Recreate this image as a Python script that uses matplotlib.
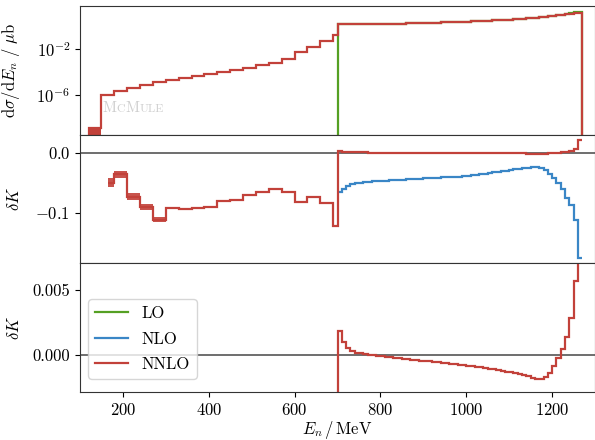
import numpy as np
import matplotlib
matplotlib.use("Agg")
import matplotlib.pyplot as plt
from matplotlib.lines import Line2D
from matplotlib.offsetbox import TextArea, HPacker, AnchoredOffsetbox

plt.rcParams['font.family'] = 'serif'
plt.rcParams['font.serif'] = ['cmr10']
plt.rcParams['mathtext.fontset'] = 'cm'
plt.rcParams['axes.formatter.use_mathtext'] = True
plt.rcParams['axes.unicode_minus'] = True
plt.rcParams['font.size'] = 12

# bin edges: coarse 30 MeV bins below 700, fine 10 MeV bins above
edges_low = [120, 150, 180, 210, 240, 270, 300, 330, 360, 390, 420, 450,
             480, 510, 540, 570, 600, 630, 660, 690, 700]
edges_high = list(range(700, 1280, 10))

# log10 of dsigma/dE_n (NNLO) in the low bins
dsig_low_log = [-8.87, -6.0, -5.63, -5.42, -5.13, -4.9, -4.7, -4.55, -4.35,
                -4.17, -3.97, -3.83, -3.63, -3.42, -3.19, -2.87, -2.25, -1.8,
                -1.28, -0.78]

# log10 of dsigma/dE_n in the high bins (NNLO, LO nearly the same)
dsig_high_log = [0.15, 0.15, 0.155, 0.16, 0.16, 0.165, 0.17, 0.175, 0.18, 0.185,
                 0.19, 0.195, 0.20, 0.21, 0.215, 0.22, 0.23, 0.24, 0.25, 0.26,
                 0.27, 0.28, 0.29, 0.30, 0.31, 0.32, 0.335, 0.35, 0.36, 0.375,
                 0.39, 0.405, 0.42, 0.435, 0.45, 0.47, 0.49, 0.51, 0.53, 0.55,
                 0.57, 0.59, 0.62, 0.65, 0.68, 0.71, 0.74, 0.78, 0.82, 0.86,
                 0.90, 0.94, 0.98, 1.03, 1.08, 1.14, 1.18]
dsig_lo_log = [0.15, 0.15, 0.155, 0.16, 0.16, 0.165, 0.17, 0.175, 0.18, 0.185,
               0.19, 0.195, 0.20, 0.21, 0.215, 0.22, 0.23, 0.24, 0.25, 0.26,
               0.27, 0.28, 0.29, 0.30, 0.31, 0.32, 0.335, 0.35, 0.36, 0.375,
               0.39, 0.405, 0.42, 0.435, 0.45, 0.47, 0.49, 0.51, 0.53, 0.55,
               0.57, 0.59, 0.62, 0.65, 0.68, 0.71, 0.74, 0.78, 0.82, 0.86,
               0.91, 0.96, 1.00, 1.06, 1.12, 1.20, 1.26]

# delta K, NNLO, low bins (first bin only partly filled) with uncertainty
dk_edges_low = [165] + edges_low[2:]
dk_nnlo_low = [-0.050, -0.036, -0.073, -0.091, -0.111, -0.092, -0.093, -0.092,
               -0.090, -0.081, -0.078, -0.071, -0.065, -0.061, -0.065, -0.082,
               -0.074, -0.084, -0.122]
dk_nnlo_low_err = [0.0075, 0.0055, 0.0065, 0.005, 0.004, 0.0015, 0.001, 0.001,
                   0.001, 0.001, 0.001, 0.001, 0.001, 0.001, 0.001, 0.001,
                   0.001, 0.001, 0.001]

# delta K, NNLO, high bins
dk_nnlo_high = [0.0018, 0.0010, 0.0005, 0.0003, 0.00015, 0.0001, 0.00002,
                -0.00003, -0.00006, -0.0001, -0.00014, -0.00018, -0.0002,
                -0.00025, -0.0003, -0.00033, -0.00036, -0.0004, -0.00043,
                -0.00047, -0.0005, -0.00053, -0.00056, -0.0006, -0.00064,
                -0.00067, -0.0007, -0.00074, -0.00078, -0.00082, -0.00086,
                -0.0009, -0.00095, -0.001, -0.00104, -0.0011, -0.00115,
                -0.0012, -0.00126, -0.00132, -0.00138, -0.00145, -0.00152,
                -0.0016, -0.00168, -0.00178, -0.00188, -0.0019, -0.0017,
                -0.0014, -0.0009, -0.0003, 0.0004, 0.0014, 0.0028, 0.0057,
                0.02]

# delta K, NLO, high bins
dk_nlo_high = [-0.065, -0.060, -0.055, -0.052, -0.051, -0.050, -0.049, -0.0485,
               -0.048, -0.0475, -0.047, -0.0466, -0.0462, -0.0458, -0.0454,
               -0.045, -0.0446, -0.0442, -0.0438, -0.0434, -0.043, -0.0426,
               -0.0422, -0.0418, -0.0414, -0.041, -0.0406, -0.0402, -0.0398,
               -0.0394, -0.039, -0.038, -0.037, -0.036, -0.035, -0.034,
               -0.033, -0.032, -0.031, -0.030, -0.029, -0.028, -0.027,
               -0.026, -0.025, -0.024, -0.024, -0.025, -0.029, -0.036,
               -0.043, -0.051, -0.060, -0.076, -0.087, -0.112, -0.175]

c_lo = '#55a023'
c_nlo = '#3a86c6'
c_nnlo = '#c2413a'
lw = 1.6

fig = plt.figure(figsize=(5.95, 4.4), dpi=100)
ax1 = fig.add_axes([0.1345, 0.6932, 0.8655, 0.2932])
ax2 = fig.add_axes([0.1345, 0.4023, 0.8655, 0.2909], sharex=ax1)
ax3 = fig.add_axes([0.1345, 0.1091, 0.8655, 0.2932], sharex=ax1)

# top panel: cross section
floor = 1e-12
ax1.stairs(10.0 ** np.array(dsig_lo_log), edges_high, baseline=floor,
           color=c_lo, lw=lw)
ax1.stairs(10.0 ** np.array(dsig_low_log[:1]), edges_low[:2], baseline=floor,
           fill=True, color=c_nnlo)
ax1.stairs(10.0 ** np.array(dsig_low_log + dsig_high_log),
           edges_low[:-1] + edges_high, baseline=floor, color=c_nnlo, lw=lw)
ax1.set_yscale('log')
ax1.set_ylim(10 ** -9.5, 10 ** 1.75)
ax1.set_yticks([1e-6, 1e-2])
ax1.yaxis.set_minor_locator(matplotlib.ticker.NullLocator())
ax1.set_ylabel(r'$\mathrm{d}\sigma/\mathrm{d}E_n\ /\ \mu\mathrm{b}$')

# watermark
parts = [("M", 11), ("C", 8.5), ("M", 11), ("ULE", 8.5)]
box = HPacker(children=[TextArea(t, textprops=dict(size=s, color='#cfcfcf'))
                        for t, s in parts], align="baseline", pad=0, sep=0)
ax1.add_artist(AnchoredOffsetbox(loc='center', child=box, frameon=False,
                                 bbox_to_anchor=(0.103, 0.21),
                                 bbox_transform=ax1.transAxes))

# middle panel: delta K
dk_low = np.array(dk_nnlo_low)
dk_err = np.array(dk_nnlo_low_err)
ax2.axhline(0, color='#555555', lw=1.2, zorder=1)
ax2.stairs(dk_nlo_high, edges_high, baseline=None, color=c_nlo, lw=lw)
ax2.stairs(dk_low + dk_err, dk_edges_low, baseline=dk_low - dk_err,
           fill=True, color=c_nnlo, alpha=0.9)
ax2.stairs(list(dk_nnlo_low) + dk_nnlo_high, dk_edges_low[:-1] + edges_high,
           baseline=None, color=c_nnlo, lw=lw)
ax2.set_ylim(-0.183, 0.029)
ax2.set_yticks([-0.1, 0.0])
ax2.set_ylabel(r'$\delta K$')

# bottom panel: delta K zoom
ax3.axhline(0, color='#555555', lw=1.2, zorder=1)
ax3.stairs(list(dk_nnlo_low) + dk_nnlo_high, dk_edges_low[:-1] + edges_high,
           baseline=None, color=c_nnlo, lw=lw)
ax3.set_ylim(-0.0029, 0.0071)
ax3.set_yticks([0.0, 0.005])
ax3.yaxis.set_major_formatter(matplotlib.ticker.FormatStrFormatter('%.3f'))
ax3.set_ylabel(r'$\delta K$')
ax3.set_xlabel(r'$E_n\,/\,\mathrm{MeV}$', labelpad=1)

handles = [Line2D([], [], color=c_lo, lw=lw),
           Line2D([], [], color=c_nlo, lw=lw),
           Line2D([], [], color=c_nnlo, lw=lw)]
ax3.legend(handles, ['LO', 'NLO', 'NNLO'], loc='lower left', fontsize=12,
           bbox_to_anchor=(0.0, 0.04), labelspacing=0.6)

ax1.set_xlim(100, 1300)
ax1.set_xticks([200, 400, 600, 800, 1000, 1200])
for ax in (ax1, ax2):
    ax.tick_params(labelbottom=False)
for ax in (ax1, ax2, ax3):
    ax.yaxis.set_label_coords(-0.112, 0.5)
    for s in ax.spines.values():
        s.set_color('#333333')

fig.savefig('out.png', dpi=100)
